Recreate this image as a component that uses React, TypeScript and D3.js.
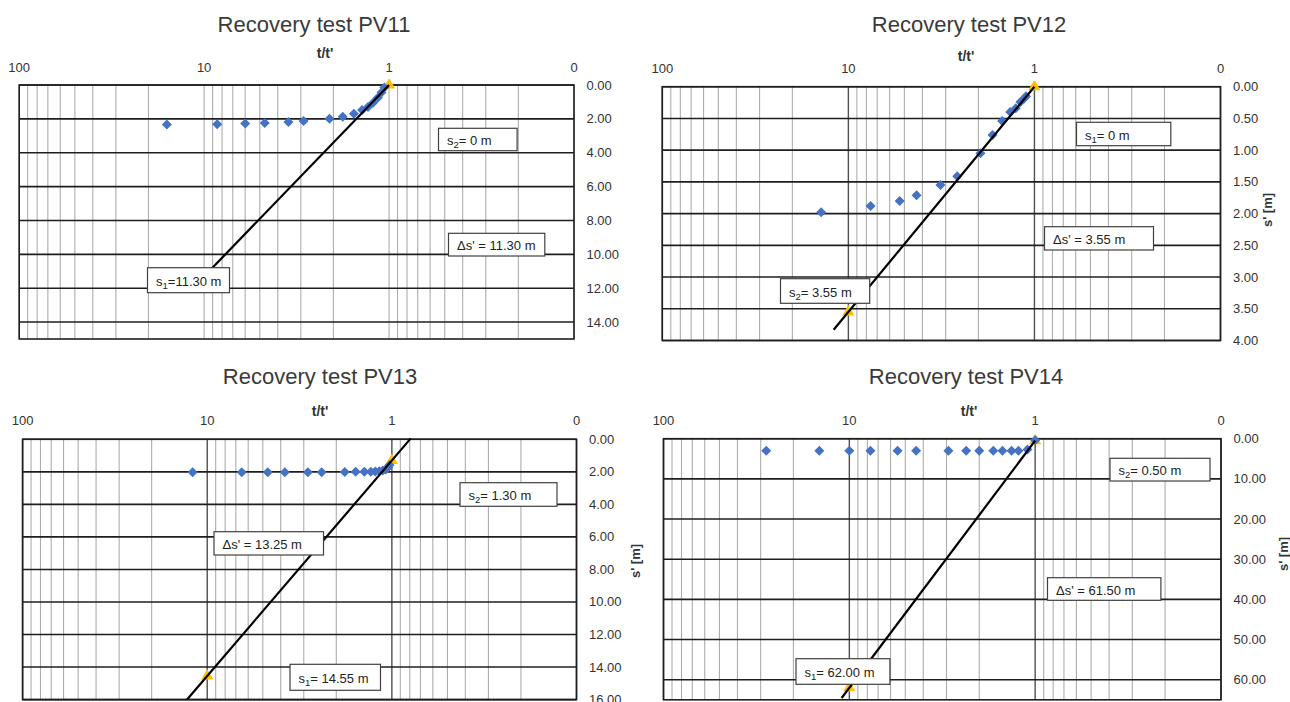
import { useEffect, useRef } from 'react';
import * as React from 'react';
import * as d3 from 'd3';

// top axis (reversed log scale, Excel shows 0.1 as "0")
const xTickValues = [100, 10, 1, 0.1];
const xTickLabels = ['100', '10', '1', '0'];

// PV11 measured points: t/t' and residual drawdown s'
const pv11Ratio = [15.9, 8.5, 6.0, 4.7, 3.5, 2.9, 2.1, 1.78, 1.55, 1.4, 1.3, 1.22, 1.15, 1.1, 1.06];
const pv11Drawdown = [2.33, 2.32, 2.28, 2.24, 2.19, 2.12, 2.0, 1.88, 1.7, 1.47, 1.3, 1.05, 0.75, 0.45, 0.15];
const pv11Fit = [0, 11.3]; // s' at t/t' = 1, Δs' per log cycle
const pv11FitRange = [1, 12];
const pv11Ticks = [0, 2, 4, 6, 8, 10, 12, 14];

// PV12
const pv12Ratio = [14.0, 7.6, 5.3, 4.3, 3.2, 2.6, 1.95, 1.68, 1.49, 1.35, 1.26, 1.19, 1.14, 1.11];
const pv12Drawdown = [1.98, 1.88, 1.8, 1.71, 1.55, 1.41, 1.05, 0.76, 0.54, 0.4, 0.34, 0.24, 0.19, 0.15];
const pv12Fit = [0, 3.55];
const pv12FitRange = [1, 12];
const pv12Ticks = [0, 0.5, 1, 1.5, 2, 2.5, 3, 3.5, 4];

// PV13
const pv13Ratio = [12.0, 6.5, 4.7, 3.8, 2.85, 2.4, 1.8, 1.57, 1.41, 1.3, 1.23, 1.17, 1.12, 1.08, 1.05, 1.03];
const pv13Drawdown = [2.02, 2.02, 2.02, 2.02, 2.02, 2.02, 2.01, 2.0, 2.0, 1.99, 1.98, 1.96, 1.92, 1.85, 1.72, 1.58];
const pv13Fit = [1.3, 13.25];
const pv13FitRange = [0.79, 13];
const pv13Ticks = [0, 2, 4, 6, 8, 10, 12, 14, 16];

// PV14
const pv14Ratio = [28.0, 14.5, 10.0, 7.7, 5.5, 4.37, 2.93, 2.35, 2.0, 1.68, 1.5, 1.34, 1.23, 1.1, 1.0];
const pv14Drawdown = [3.0, 3.0, 3.0, 3.0, 3.0, 3.0, 3.0, 3.0, 3.0, 3.0, 3.0, 3.0, 3.0, 2.7, 0.4];
const pv14Fit = [0.5, 61.5];
const pv14FitRange = [1, 11];
const pv14Ticks = [0, 10, 20, 30, 40, 50, 60];

type Label = { parts: [string, string, string]; box: [number, number, number, number] };

const panels = [
  {
    title: 'Recovery test PV11', ratio: pv11Ratio, drawdown: pv11Drawdown, fit: pv11Fit, fitRange: pv11FitRange,
    ticks: pv11Ticks, yMax: 15, left: 19.2, right: 574, top: 85, bottom: 339, darkDecades: false,
    titleX: 314, titleY: 24, axisX: 325, axisY: 53, tickY: 67, yLabel: null as null | [number, number],
    labels: [
      { parts: ['s', '2', '= 0 m'], box: [438.5, 128.3, 78.6, 22.4] },
      { parts: ["Δs' = 11.30 m", '', ''], box: [448.5, 233.3, 96.3, 22.7] },
      { parts: ['s', '1', '=11.30 m'], box: [147.5, 267.7, 82, 25] },
    ] as Label[],
  },
  {
    title: 'Recovery test PV12', ratio: pv12Ratio, drawdown: pv12Drawdown, fit: pv12Fit, fitRange: pv12FitRange,
    ticks: pv12Ticks, yMax: 4, left: 662.3, right: 1220.5, top: 86.7, bottom: 340.5, darkDecades: true,
    titleX: 969, titleY: 24, axisX: 966, axisY: 56, tickY: 68, yLabel: [1268, 210] as [number, number],
    labels: [
      { parts: ['s', '1', '= 0 m'], box: [1076.5, 122.3, 94.3, 23.4] },
      { parts: ["Δs' = 3.55 m", '', ''], box: [1044.5, 226.7, 109, 23.3] },
      { parts: ['s', '2', '= 3.55 m'], box: [780.5, 278.7, 89.2, 24.6] },
    ] as Label[],
  },
  {
    title: 'Recovery test PV13', ratio: pv13Ratio, drawdown: pv13Drawdown, fit: pv13Fit, fitRange: pv13FitRange,
    ticks: pv13Ticks, yMax: 16, left: 22.6, right: 576.5, top: 439.3, bottom: 699.6, darkDecades: true,
    titleX: 320, titleY: 376, axisX: 320, axisY: 411, tickY: 420, yLabel: [636, 561] as [number, number],
    labels: [
      { parts: ['s', '2', '= 1.30 m'], box: [460, 482.7, 97, 23.6] },
      { parts: ["Δs' = 13.25 m", '', ''], box: [214, 531.7, 109.5, 23.3] },
      { parts: ['s', '1', '= 14.55 m'], box: [290, 664.3, 90.5, 26] },
    ] as Label[],
  },
  {
    title: 'Recovery test PV14', ratio: pv14Ratio, drawdown: pv14Drawdown, fit: pv14Fit, fitRange: pv14FitRange,
    ticks: pv14Ticks, yMax: 65, left: 663.5, right: 1221, top: 438.7, bottom: 699.8, darkDecades: true,
    titleX: 966, titleY: 376, axisX: 969, axisY: 411, tickY: 420, yLabel: [1284, 554] as [number, number],
    labels: [
      { parts: ['s', '2', '= 0.50 m'], box: [1110, 458.3, 100, 22.7] },
      { parts: ["Δs' = 61.50 m", '', ''], box: [1047.5, 577.7, 113.4, 22.6] },
      { parts: ['s', '1', '= 62.00 m'], box: [796, 658.7, 93.9, 25.6] },
    ] as Label[],
  },
];

const FONT = "'Liberation Sans', Arial, sans-serif";

const App: React.FC = () => {
  const ref = useRef<SVGSVGElement>(null);

  useEffect(() => {
    const svg = d3.select(ref.current);
    svg.selectAll('*').remove();

    // minor and decade grid values
    const gridValues: number[] = [100];
    [10, 1, 0.1].forEach(dec => {
      for (let k = 1; k <= 9; k++) gridValues.push(+(k * dec).toFixed(3));
    });
    const isDecade = (d: number) => Math.abs(Math.log10(d) - Math.round(Math.log10(d))) < 1e-6;

    panels.forEach((p, pi) => {
      const x = d3.scaleLog().domain([100, 0.1]).range([p.left, p.right]);
      const y = d3.scaleLinear().domain([0, p.yMax]).range([p.top, p.bottom]);
      const g = svg.append('g');

      // Title and axis title
      g.append('text')
        .attr('x', p.titleX).attr('y', p.titleY + 7.5)
        .attr('text-anchor', 'middle')
        .attr('font-family', FONT).attr('font-size', 22).attr('fill', '#3a3a3a')
        .text(p.title);

      g.append('text')
        .attr('x', p.axisX).attr('y', p.axisY + 5)
        .attr('text-anchor', 'middle')
        .attr('font-family', FONT).attr('font-size', 14).attr('font-weight', 'bold').attr('fill', '#333')
        .text("t/t'");

      // vertical grid
      g.selectAll('line.vgrid')
        .data(gridValues)
        .enter()
        .append('line')
        .attr('x1', d => x(d)).attr('x2', d => x(d))
        .attr('y1', p.top).attr('y2', p.bottom)
        .attr('stroke', d => (p.darkDecades && isDecade(d) ? '#505050' : '#adadad'))
        .attr('stroke-width', d => (p.darkDecades && isDecade(d) ? 1.4 : 1.1));

      // horizontal grid
      g.selectAll('line.hgrid')
        .data(p.ticks)
        .enter()
        .append('line')
        .attr('x1', p.left).attr('x2', p.right)
        .attr('y1', d => y(d)).attr('y2', d => y(d))
        .attr('stroke', '#1e1e1e')
        .attr('stroke-width', 1.6);

      g.append('rect')
        .attr('x', p.left).attr('y', p.top)
        .attr('width', p.right - p.left).attr('height', p.bottom - p.top)
        .attr('fill', 'none').attr('stroke', '#1e1e1e').attr('stroke-width', 1.6);

      // top tick labels
      g.selectAll('text.xtick')
        .data(xTickValues)
        .enter()
        .append('text')
        .attr('x', d => x(d)).attr('y', p.tickY + 4.5)
        .attr('text-anchor', 'middle')
        .attr('font-family', FONT).attr('font-size', 13).attr('fill', '#333')
        .text((_d, i) => xTickLabels[i]);

      // right tick labels
      g.selectAll('text.ytick')
        .data(p.ticks)
        .enter()
        .append('text')
        .attr('x', p.right + 12.5).attr('y', d => y(d) + 4.5)
        .attr('font-family', FONT).attr('font-size', 13).attr('fill', '#333')
        .text(d => d.toFixed(2));

      if (p.yLabel) {
        g.append('text')
          .attr('transform', `translate(${p.yLabel[0] + 4},${p.yLabel[1]}) rotate(-90)`)
          .attr('text-anchor', 'middle')
          .attr('font-family', FONT).attr('font-size', 13).attr('font-weight', 'bold').attr('fill', '#333')
          .text("s' [m]");
      }

      // clip for marks
      const clipId = `clip-${pi}`;
      svg.append('clipPath').attr('id', clipId)
        .append('rect')
        .attr('x', p.left).attr('y', p.top - 6)
        .attr('width', p.right - p.left).attr('height', p.bottom - p.top + 6);

      const marks = g.append('g').attr('clip-path', `url(#${clipId})`);

      // yellow triangles at t/t' = 1 and 10 on the fitted line
      const fitAt = (v: number) => p.fit[0] + p.fit[1] * Math.log10(v);
      marks.selectAll('path.tri')
        .data([1, 10])
        .enter()
        .append('path')
        .attr('d', d3.symbol().type(d3.symbolTriangle).size(65)())
        .attr('transform', d => `translate(${x(d)},${y(fitAt(d))})`)
        .attr('fill', '#FFC000');

      // blue diamonds
      marks.selectAll('path.pt')
        .data(p.ratio)
        .enter()
        .append('path')
        .attr('d', d3.symbol().type(d3.symbolSquare).size(50)())
        .attr('transform', (d, i) => `translate(${x(d)},${y(p.drawdown[i])}) rotate(45)`)
        .attr('fill', '#4472C4');

      // straight line (Cooper-Jacob fit)
      const line = d3.line<number>()
        .x(d => x(d))
        .y(d => y(fitAt(d)));
      marks.append('path')
        .datum(p.fitRange)
        .attr('d', line)
        .attr('fill', 'none')
        .attr('stroke', '#000')
        .attr('stroke-width', 2.2);

      // annotation boxes
      p.labels.forEach(l => {
        const [bx, by, bw, bh] = l.box;
        g.append('rect')
          .attr('x', bx).attr('y', by).attr('width', bw).attr('height', bh)
          .attr('fill', '#fff').attr('stroke', '#404040').attr('stroke-width', 1.2);
        const t = g.append('text')
          .attr('x', bx + 8.5).attr('y', by + bh / 2 + 5.5)
          .attr('font-family', FONT).attr('font-size', 13).attr('fill', '#222');
        t.append('tspan').text(l.parts[0]);
        if (l.parts[1]) {
          t.append('tspan').attr('dy', 3).attr('font-size', 9.5).text(l.parts[1]);
          t.append('tspan').attr('dy', -3).text(l.parts[2]);
        }
      });
    });
  }, []);

  return (
    <svg
      ref={ref}
      width={1290}
      height={702}
      style={{ position: 'absolute', left: 0, top: 0, background: '#fff', display: 'block' }}
    />
  );
};

export default App;
